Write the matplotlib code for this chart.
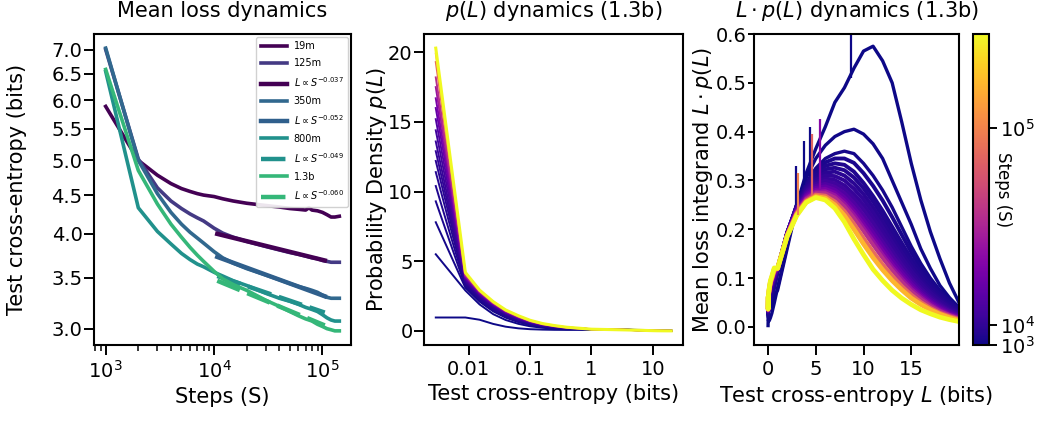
import numpy as np
import matplotlib
matplotlib.use('Agg')
import matplotlib.pyplot as plt
from matplotlib.ticker import FixedLocator, NullLocator, FormatStrFormatter, FixedFormatter
from matplotlib.colors import Normalize
from matplotlib.cm import ScalarMappable

plt.rcParams.update({
    'font.family': ['DejaVu Sans'],
    'mathtext.fontset': 'dejavusans',
    'axes.linewidth': 1.5,
    'xtick.major.size': 7, 'ytick.major.size': 7,
    'xtick.major.width': 1.4, 'ytick.major.width': 1.4,
    'xtick.minor.size': 4, 'ytick.minor.size': 4,
    'xtick.minor.width': 1.1, 'ytick.minor.width': 1.1,
    'ytick.major.pad': 1.2,
    'xtick.labelsize': 14, 'ytick.labelsize': 14,
    'axes.labelsize': 15, 'axes.titlesize': 15,
})

# ---------------- Panel 1 data: mean loss vs steps ----------------
steps = [1000, 2000, 3000, 4000, 5000, 6000, 7000, 8000, 10000, 12000, 15000,
         20000, 30000, 40000, 50000, 60000, 70000, 75000, 80000, 90000, 100000,
         110000, 120000, 130000, 143000]
loss_19m = [5.89, 5.00, 4.78, 4.66, 4.59, 4.55, 4.52, 4.50, 4.48, 4.45, 4.42,
            4.39, 4.36, 4.34, 4.32, 4.31, 4.30, 4.33, 4.30, 4.29, 4.27,
            4.24, 4.21, 4.21, 4.22]
loss_125m = [7.00, 5.02, 4.60, 4.42, 4.32, 4.25, 4.20, 4.16, 4.07, 4.01, 3.96,
             3.91, 3.85, 3.81, 3.78, 3.76, 3.74, 3.73, 3.72, 3.71, 3.69,
             3.68, 3.67, 3.67, 3.67]
loss_350m = [7.03, 5.00, 4.52, 4.27, 4.12, 4.02, 3.95, 3.89, 3.79, 3.72, 3.66,
             3.60, 3.53, 3.48, 3.44, 3.41, 3.39, 3.38, 3.37, 3.35, 3.32,
             3.30, 3.29, 3.29, 3.29]
loss_800m = [6.55, 4.33, 4.03, 3.88, 3.77, 3.70, 3.65, 3.62, 3.56, 3.52, 3.47,
             3.42, 3.34, 3.29, 3.26, 3.23, 3.20, 3.19, 3.18, 3.16, 3.13,
             3.10, 3.08, 3.07, 3.07]
loss_1p3b = [6.59, 4.85, 4.38, 4.12, 3.96, 3.84, 3.75, 3.68, 3.57, 3.49, 3.43,
             3.37, 3.27, 3.21, 3.16, 3.12, 3.09, 3.08, 3.07, 3.04, 3.02,
             3.00, 2.99, 2.98, 2.98]

fit_steps = [10700, 105000]
fit_037 = [4.00, 3.69]
fit_052 = [3.73, 3.31]
fit_049 = [3.52, 3.15]
fit_060 = [3.47, 3.03]

# ---------------- Panels 2/3 data: loss distributions (1.3b) ----------------
L_small = [0.0029, 0.0088, 0.015, 0.025, 0.04, 0.065, 0.1, 0.16, 0.25, 0.4, 0.65]
p_small = {
    1000:   [0.96, 0.96, 0.80, 0.50, 0.30, 0.18, 0.12, 0.09, 0.075, 0.07, 0.075],
    2000:   [5.5, 2.9, 1.9, 1.2, 0.78, 0.50, 0.33, 0.22, 0.16, 0.12, 0.10],
    3000:   [7.8, 3.1, 2.1, 1.4, 0.95, 0.62, 0.42, 0.28, 0.20, 0.15, 0.12],
    4000:   [9.3, 3.2, 2.2, 1.48, 1.0, 0.67, 0.46, 0.31, 0.225, 0.165, 0.13],
    5000:   [10.4, 3.3, 2.3, 1.55, 1.05, 0.72, 0.50, 0.34, 0.25, 0.18, 0.14],
    6500:   [11.4, 3.4, 2.38, 1.63, 1.11, 0.76, 0.53, 0.36, 0.265, 0.19, 0.145],
    8000:   [12.2, 3.5, 2.45, 1.7, 1.17, 0.80, 0.56, 0.38, 0.28, 0.20, 0.15],
    10000:  [12.9, 3.55, 2.5, 1.75, 1.21, 0.83, 0.58, 0.395, 0.29, 0.205, 0.152],
    12000:  [13.6, 3.6, 2.55, 1.8, 1.25, 0.86, 0.60, 0.41, 0.30, 0.21, 0.155],
    15000:  [14.4, 3.68, 2.6, 1.84, 1.29, 0.89, 0.62, 0.425, 0.31, 0.215, 0.158],
    20000:  [15.2, 3.75, 2.65, 1.88, 1.32, 0.92, 0.64, 0.44, 0.32, 0.22, 0.16],
    27000:  [16.0, 3.82, 2.7, 1.92, 1.35, 0.95, 0.66, 0.455, 0.33, 0.228, 0.165],
    35000:  [16.7, 3.9, 2.75, 1.95, 1.38, 0.97, 0.68, 0.47, 0.34, 0.235, 0.17],
    47000:  [17.5, 3.95, 2.79, 1.98, 1.41, 0.99, 0.695, 0.48, 0.348, 0.24, 0.172],
    60000:  [18.2, 4.0, 2.82, 2.0, 1.43, 1.01, 0.71, 0.49, 0.355, 0.245, 0.175],
    90000:  [19.3, 4.1, 2.87, 2.04, 1.46, 1.04, 0.73, 0.505, 0.365, 0.25, 0.18],
    120000: [19.9, 4.15, 2.9, 2.07, 1.48, 1.06, 0.745, 0.515, 0.37, 0.255, 0.183],
    143000: [20.3, 4.2, 2.93, 2.1, 1.5, 1.08, 0.76, 0.525, 0.38, 0.26, 0.186],
}
L_large = [1, 2, 3, 4, 5, 6, 7, 8, 9, 10, 11, 12, 13, 14, 15, 16, 17, 18, 19, 20]
lp_large = {
    1000:   [0.08, 0.165, 0.25, 0.315, 0.365, 0.41, 0.46, 0.49, 0.53, 0.565, 0.575, 0.545, 0.50, 0.42, 0.335, 0.26, 0.195, 0.14, 0.09, 0.05],
    2000:   [0.075, 0.16, 0.245, 0.305, 0.345, 0.372, 0.39, 0.40, 0.405, 0.395, 0.375, 0.345, 0.30, 0.255, 0.21, 0.16, 0.12, 0.085, 0.06, 0.04],
    3000:   [0.11, 0.19, 0.25, 0.295, 0.325, 0.345, 0.355, 0.36, 0.355, 0.335, 0.31, 0.28, 0.245, 0.205, 0.165, 0.13, 0.10, 0.075, 0.055, 0.04],
    4000:   [0.113, 0.191, 0.249, 0.292, 0.32, 0.337, 0.345, 0.345, 0.336, 0.315, 0.289, 0.259, 0.225, 0.189, 0.153, 0.121, 0.094, 0.071, 0.052, 0.038],
    5000:   [0.115, 0.192, 0.248, 0.29, 0.315, 0.33, 0.335, 0.332, 0.318, 0.295, 0.268, 0.238, 0.205, 0.172, 0.14, 0.112, 0.087, 0.066, 0.049, 0.036],
    6500:   [0.117, 0.192, 0.247, 0.287, 0.31, 0.323, 0.326, 0.321, 0.306, 0.284, 0.257, 0.227, 0.194, 0.162, 0.131, 0.104, 0.081, 0.061, 0.045, 0.033],
    8000:   [0.118, 0.193, 0.246, 0.284, 0.305, 0.316, 0.318, 0.31, 0.294, 0.272, 0.245, 0.215, 0.183, 0.152, 0.123, 0.097, 0.075, 0.057, 0.042, 0.031],
    10000:  [0.119, 0.193, 0.245, 0.281, 0.301, 0.31, 0.309, 0.30, 0.283, 0.261, 0.234, 0.204, 0.173, 0.143, 0.115, 0.091, 0.07, 0.053, 0.039, 0.028],
    12000:  [0.12, 0.192, 0.244, 0.278, 0.297, 0.304, 0.301, 0.29, 0.272, 0.25, 0.223, 0.194, 0.164, 0.135, 0.108, 0.085, 0.065, 0.049, 0.036, 0.026],
    15000:  [0.12, 0.192, 0.243, 0.276, 0.293, 0.299, 0.294, 0.282, 0.263, 0.24, 0.213, 0.184, 0.155, 0.127, 0.101, 0.079, 0.061, 0.046, 0.034, 0.024],
    20000:  [0.12, 0.191, 0.241, 0.273, 0.289, 0.293, 0.287, 0.274, 0.254, 0.229, 0.202, 0.174, 0.146, 0.119, 0.095, 0.074, 0.057, 0.043, 0.032, 0.023],
    27000:  [0.12, 0.19, 0.24, 0.27, 0.285, 0.288, 0.281, 0.266, 0.245, 0.22, 0.193, 0.165, 0.137, 0.112, 0.089, 0.069, 0.053, 0.04, 0.029, 0.021],
    35000:  [0.12, 0.19, 0.238, 0.267, 0.281, 0.283, 0.275, 0.259, 0.237, 0.211, 0.184, 0.156, 0.129, 0.105, 0.083, 0.065, 0.05, 0.037, 0.027, 0.02],
    47000:  [0.12, 0.189, 0.236, 0.264, 0.277, 0.278, 0.27, 0.253, 0.23, 0.203, 0.176, 0.148, 0.122, 0.099, 0.078, 0.061, 0.046, 0.034, 0.025, 0.018],
    60000:  [0.12, 0.188, 0.235, 0.262, 0.274, 0.274, 0.265, 0.247, 0.223, 0.196, 0.168, 0.141, 0.116, 0.093, 0.073, 0.057, 0.043, 0.032, 0.024, 0.017],
    90000:  [0.12, 0.187, 0.232, 0.258, 0.27, 0.268, 0.256, 0.236, 0.21, 0.181, 0.153, 0.127, 0.104, 0.083, 0.065, 0.05, 0.038, 0.028, 0.021, 0.015],
    120000: [0.12, 0.186, 0.23, 0.256, 0.267, 0.264, 0.25, 0.228, 0.20, 0.17, 0.142, 0.117, 0.095, 0.076, 0.059, 0.046, 0.035, 0.026, 0.019, 0.013],
    143000: [0.12, 0.185, 0.228, 0.255, 0.265, 0.26, 0.243, 0.215, 0.18, 0.148, 0.118, 0.095, 0.075, 0.059, 0.046, 0.035, 0.027, 0.02, 0.015, 0.011],
}
dens_steps = sorted(p_small.keys())

# narrow spikes in the integrand
spike_L = [2.95, 3.1, 3.75, 4.35, 4.6, 5.42, 8.67]
spike_base = [0.25, 0.23, 0.29, 0.31, 0.27, 0.28, 0.51]
spike_top = [0.33, 0.315, 0.38, 0.41, 0.395, 0.425, 0.62]
spike_step = [2000, 100000, 1000, 1000, 85000, 40000, 1000]

step_min, step_max = 1000, 143000

# ---------------- Figure ----------------
fig = plt.figure(figsize=(10.39, 4.23), dpi=100)
W, H = 1039, 423
def axpos(l, r, t, b):
    return [l / W, (H - b) / H, (r - l) / W, (b - t) / H]

ax1 = fig.add_axes(axpos(94, 351, 34, 345))
ax2 = fig.add_axes(axpos(424, 683, 34, 345))
ax3 = fig.add_axes(axpos(754, 959, 34, 345))
cax = fig.add_axes(axpos(973, 989, 34, 345))

# Panel 1
c19, c125, c350, c800, c13 = '#440154', '#443a84', '#31688e', '#21918c', '#35b779'
lw_c, lw_f = 2.6, 3.2
ax1.plot(steps, loss_19m, color=c19, lw=lw_c, label='19m')
ax1.plot(steps, loss_125m, color=c125, lw=lw_c, label='125m')
ax1.plot(fit_steps, fit_037, color='#440154', lw=lw_f, label=r'$L \propto S^{-0.037}$')
ax1.plot(steps, loss_350m, color=c350, lw=lw_c, label='350m')
ax1.plot(fit_steps, fit_052, color='#2f5f8c', lw=lw_f, label=r'$L \propto S^{-0.052}$')
ax1.plot(steps, loss_800m, color=c800, lw=lw_c, label='800m')
ax1.plot(fit_steps, fit_049, color=c800, lw=lw_f, dashes=(5.5, 1.8), label=r'$L \propto S^{-0.049}$')
ax1.plot(steps, loss_1p3b, color=c13, lw=lw_c, label='1.3b')
ax1.plot(fit_steps, fit_060, color=c13, lw=lw_f, dashes=(5.5, 1.8), label=r'$L \propto S^{-0.060}$')
ax1.set_xscale('log')
ax1.set_yscale('log')
ax1.yaxis.set_major_locator(FixedLocator([3.0, 3.5, 4.0, 4.5, 5.0, 5.5, 6.0, 6.5, 7.0]))
ax1.yaxis.set_major_formatter(FormatStrFormatter('%.1f'))
ax1.yaxis.set_minor_locator(NullLocator())
ax1.set_title('Mean loss dynamics', pad=12)
ax1.set_xlabel('Steps (S)')
ax1.set_ylabel('Test cross-entropy (bits)')
ax1.yaxis.set_label_coords(-0.26, 0.5)
leg = ax1.legend(loc='upper right', fontsize=7, handlelength=2.7, frameon=True,
                 fancybox=True, framealpha=0.9, edgecolor='0.8', borderaxespad=0.3,
                 labelspacing=0.72, borderpad=0.45, handletextpad=0.7)
leg.get_frame().set_linewidth(1.0)

# Panels 2 & 3
cmap = plt.get_cmap('plasma')
norm = Normalize(vmin=step_min, vmax=step_max)
for s in dens_steps:
    ps = p_small[s]
    lps = lp_large[s]
    x_all = np.array(L_small + L_large)
    p_all = np.concatenate([np.array(ps), np.array(lps) / np.array(L_large)])
    lp_all = np.concatenate([np.array(L_small) * np.array(ps), np.array(lps)])
    col = cmap(norm(s))
    lw2 = 2.2 if s == step_max else 1.4
    ax2.plot(x_all, p_all, color=col, lw=lw2)
    lw3 = 3.4 if s >= 90000 else (2.8 if s >= 4000 else 2.4)
    ax3.plot(x_all, lp_all, color=col, lw=lw3)

ax3.vlines(spike_L, spike_base, spike_top, colors=[cmap(norm(s)) for s in spike_step], lw=1.6)

ax2.set_xscale('log')
ax2.xaxis.set_major_locator(FixedLocator([0.01, 0.1, 1, 10]))
ax2.xaxis.set_major_formatter(FixedFormatter(['0.01', '0.1', '1', '10']))
ax2.xaxis.set_minor_locator(NullLocator())
ax2.yaxis.set_major_locator(FixedLocator([0, 5, 10, 15, 20]))
ax2.set_title(r'$p(L)$ dynamics (1.3b)', pad=12)
ax2.set_xlabel('Test cross-entropy (bits)')
ax2.set_ylabel(r'Probability Density $p(L)$')
ax2.yaxis.set_label_coords(-0.135, 0.5)

ax3.set_xlim(-1.47, 20.0)
ax3.set_ylim(-0.037, 0.6)
ax3.xaxis.set_major_locator(FixedLocator([0, 5, 10, 15]))
ax3.yaxis.set_major_locator(FixedLocator([0.0, 0.1, 0.2, 0.3, 0.4, 0.5, 0.6]))
ax3.yaxis.set_major_formatter(FormatStrFormatter('%.1f'))
ax3.tick_params(axis='y', length=4.5, pad=0.8)
ax3.set_title(r'$L \cdot p(L)$ dynamics (1.3b)', pad=12)
ax3.set_xlabel(r'Test cross-entropy $L$ (bits)')
ax3.set_ylabel(r'Mean loss integrand $L \cdot p(L)$')
ax3.yaxis.set_label_coords(-0.19, 0.5)

sm = ScalarMappable(norm=norm, cmap=cmap)
cb = fig.colorbar(sm, cax=cax)
cb.set_ticks([1000, 10000, 100000])
cb.set_ticklabels([r'$10^3$', r'$10^4$', r'$10^5$'])
cb.outline.set_linewidth(1.5)
cax.tick_params(length=6, pad=2)
cax.text(1.85, 0.5, 'Steps (S)', rotation=270, va='center', ha='center',
         transform=cax.transAxes, fontsize=12)

fig.savefig('out.png', dpi=100)
